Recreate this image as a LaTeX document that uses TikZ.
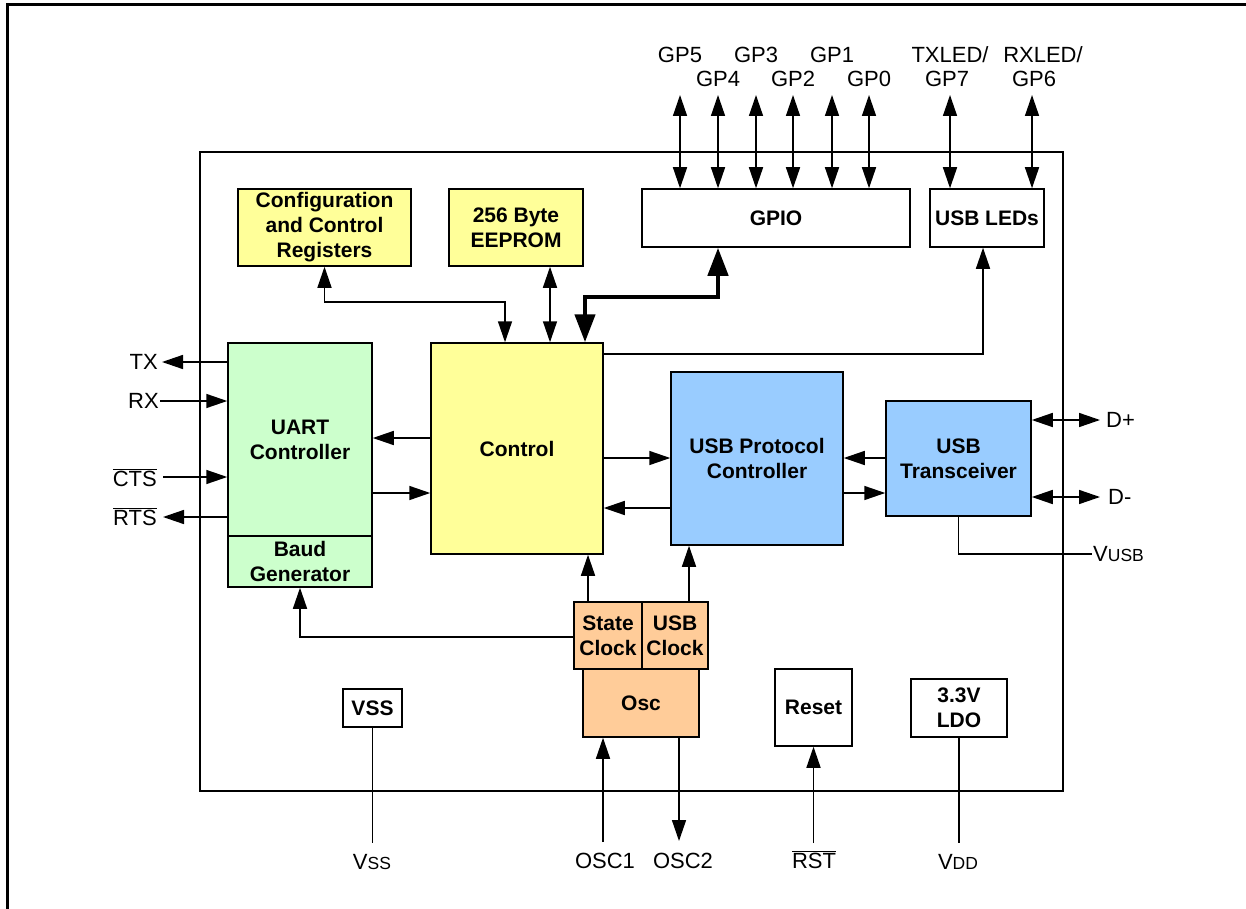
\documentclass[tikz,border=0pt]{standalone}
\usepackage{fontspec}
\setmainfont{Liberation Sans}
\usetikzlibrary{arrows.meta,calc}
\definecolor{yel}{HTML}{FFFF99}
\definecolor{grn}{HTML}{CCFFCC}
\definecolor{blu}{HTML}{99CCFF}
\definecolor{org}{HTML}{FFCC99}
\newcommand\smallsz{\fontsize{17.5}{20}\selectfont}
\begin{document}
\begin{tikzpicture}[x=1pt,y=-1pt,
  blk/.style={draw, line width=1.5pt, inner sep=0pt, align=center,
    font=\bfseries\fontsize{21}{25}\selectfont},
  lbl/.style={inner sep=0pt, font=\fontsize{22}{26}\selectfont},
  wire/.style={line width=1.5pt},
  >={Triangle[width=14pt,length=21pt]},
  bus/.style={line width=4.5pt,
    {Triangle[width=20pt,length=28pt]}-{Triangle[width=20pt,length=28pt]}},
]
\useasboundingbox (0,0) rectangle (1246,909);
\fill[white] (0,0) rectangle (1246,909);
% outer frame
\draw[line width=3pt] (7,909) -- (7,5) -- (1246,5);
% chip outline
\node[draw, line width=1.5pt, minimum width=863pt, minimum height=639pt, inner sep=0pt] (chip) at (631.5,471.5) {};

% blocks
\node[blk, fill=yel, minimum width=173pt, minimum height=77pt] (cfg) at (324.5,227.5) {Configuration\\and Control\\Registers};
\node[blk, fill=yel, minimum width=134pt, minimum height=77pt] (eep) at (516,227.5) {256 Byte\\EEPROM};
\node[blk, minimum width=268pt, minimum height=58pt] (gpio) at (776,218) {GPIO};
\node[blk, minimum width=114pt, minimum height=58pt] (leds) at (987,218) {USB LEDs};
\node[blk, fill=grn, minimum width=144pt, minimum height=193pt] (uart) at (300,439.5) {UART\\Controller};
\node[blk, fill=grn, minimum width=144pt, minimum height=51pt] (baud) at (300,561.5) {Baud\\Generator};
\node[blk, fill=yel, minimum width=172pt, minimum height=211pt] (ctrl) at (517,448.5) {Control};
\node[blk, fill=blu, minimum width=172pt, minimum height=173pt] (usbp) at (757,458.5) {USB Protocol\\Controller};
\node[blk, fill=blu, minimum width=145pt, minimum height=115pt] (xcvr) at (958.5,458.5) {USB\\Transceiver};
\node[blk, fill=org, minimum width=68pt, minimum height=67pt] (sclk) at (608,635.5) {State\\Clock};
\node[blk, fill=org, minimum width=66pt, minimum height=67pt] (uclk) at (675,635.5) {USB\\Clock};
\node[blk, fill=org, minimum width=116pt, minimum height=68pt] (osc) at (641,703) {Osc};
\node[blk, minimum width=59pt, minimum height=38pt] (vssb) at (372.5,708) {VSS};
\node[blk, minimum width=77pt, minimum height=77pt] (rst) at (813.5,707.5) {Reset};
\node[blk, minimum width=96pt, minimum height=58pt] (ldo) at (959,708) {3.3V\\LDO};

% GPIO pins
\foreach \n/\x in {5/680,4/718,3/756,2/793,1/832,0/869}{
  \coordinate (p\n) at (\x,95);
  \draw[wire,<->] (p\n) -- (p\n |- gpio.north);
}
\node[lbl] (gp5) at (680,55) {GP5};
\node[lbl] (gp4) at (718,79) {GP4};
\node[lbl] (gp3) at (756,55) {GP3};
\node[lbl] (gp2) at (793,79) {GP2};
\node[lbl] (gp1) at (832,55) {GP1};
\node[lbl] (gp0) at (869,79) {GP0};
\coordinate (p7) at (950,95);
\coordinate (p6) at (1032,95);
\draw[wire,<->] (p7) -- (p7 |- leds.north);
\draw[wire,<->] (p6) -- (p6 |- leds.north);
\node[lbl] (txled) at (950,55) {TXLED/};
\node[lbl] (gp7) at (947,79) {GP7};
\node[lbl] (rxled) at (1043,55) {RXLED/};
\node[lbl] (gp6) at (1034,79) {GP6};

% control to upper blocks
\coordinate (cb) at (505,302);
\draw[wire,<->] (cfg.south) |- (cb) -- (cb |- ctrl.north);
\coordinate (ex) at (550,300);
\draw[wire,<->] (ex |- eep.south) -- (ex |- ctrl.north);
\coordinate (bus1) at (585,297);
\coordinate (bus2) at (718,297);
\draw[bus] (bus1 |- ctrl.north) -- (bus1) -- (bus2) -- (bus2 |- gpio.south);
\coordinate (lc) at (983,354);
\draw[wire,->] (ctrl.east |- lc) -- (lc) -- (lc |- leds.south);

% control <-> uart / usb
\draw[wire,->] (ctrl.west |- 0,438) -- (uart.east |- 0,438);
\draw[wire,->] (uart.east |- 0,493) -- (ctrl.west |- 0,493);
\draw[wire,->] (ctrl.east |- 0,458) -- (usbp.west |- 0,458);
\draw[wire,->] (usbp.west |- 0,508) -- (ctrl.east |- 0,508);
\draw[wire,->] (xcvr.west |- 0,458) -- (usbp.east |- 0,458);
\draw[wire,->] (usbp.east |- 0,493) -- (xcvr.west |- 0,493);

% UART pins
\coordinate (tx) at (162,362);
\coordinate (rx) at (160,401);
\coordinate (cts) at (163,477);
\coordinate (rts) at (163,517);
\draw[wire,->] (uart.west |- tx) -- (tx);
\draw[wire,->] (rx) -- (uart.west |- rx);
\draw[wire,->] (cts) -- (uart.west |- cts);
\draw[wire,->] (uart.west |- rts) -- (rts);
\node[lbl, anchor=east] (txl) at (158,362) {TX};
\node[lbl, anchor=east] (rxl) at (159,401) {RX};
\node[lbl, anchor=base east] (ctsl) at (157,486) {$\overline{\mbox{CTS}}$};
\node[lbl, anchor=base east] (rtsl) at (157,525) {$\overline{\mbox{RTS}}$};

% USB pins
\coordinate (dp) at (1100,420);
\coordinate (dm) at (1100,497);
\draw[wire,<->] (xcvr.east |- dp) -- (dp);
\draw[wire,<->] (xcvr.east |- dm) -- (dm);
\node[lbl, anchor=west] (dpl) at (1106,420) {D+};
\node[lbl, anchor=west] (dml) at (1108,497) {D-};
\coordinate (vu) at (1092,554);
\draw[wire] (xcvr.south) |- (vu);
\node[lbl, anchor=west] (vusb) at (1093,554) {V{\smallsz USB}};

% clocks
\draw[wire,->] (sclk.north -| 588,0) -- (ctrl.south -| 588,0);
\draw[wire,->] (uclk.north -| 689,0) -- (usbp.south -| 689,0);
\draw[wire,->] (sclk.west |- 0,637) -| (baud.south);

% bottom pins
\coordinate (o1) at (603,842);
\coordinate (o2) at (679,841);
\draw[wire,->] (o1) -- (o1 |- osc.south);
\draw[wire,->] (o2 |- osc.south) -- (o2);
\draw[wire] (vssb.south) -- (vssb.south |- 0,843);
\draw[wire,->] (rst.south |- 0,843) -- (rst.south);
\draw[wire] (ldo.south) -- (ldo.south |- 0,843);
\node[lbl, anchor=base] (vssl) at (372,869) {V{\smallsz SS}};
\node[lbl, anchor=base] (osc1l) at (605,868) {OSC1};
\node[lbl, anchor=base] (osc2l) at (683,868) {OSC2};
\node[lbl, anchor=base] (rstl) at (814,868) {$\overline{\mbox{RST}}$};
\node[lbl, anchor=base] (vddl) at (958,869) {V{\smallsz DD}};
\end{tikzpicture}
\end{document}
